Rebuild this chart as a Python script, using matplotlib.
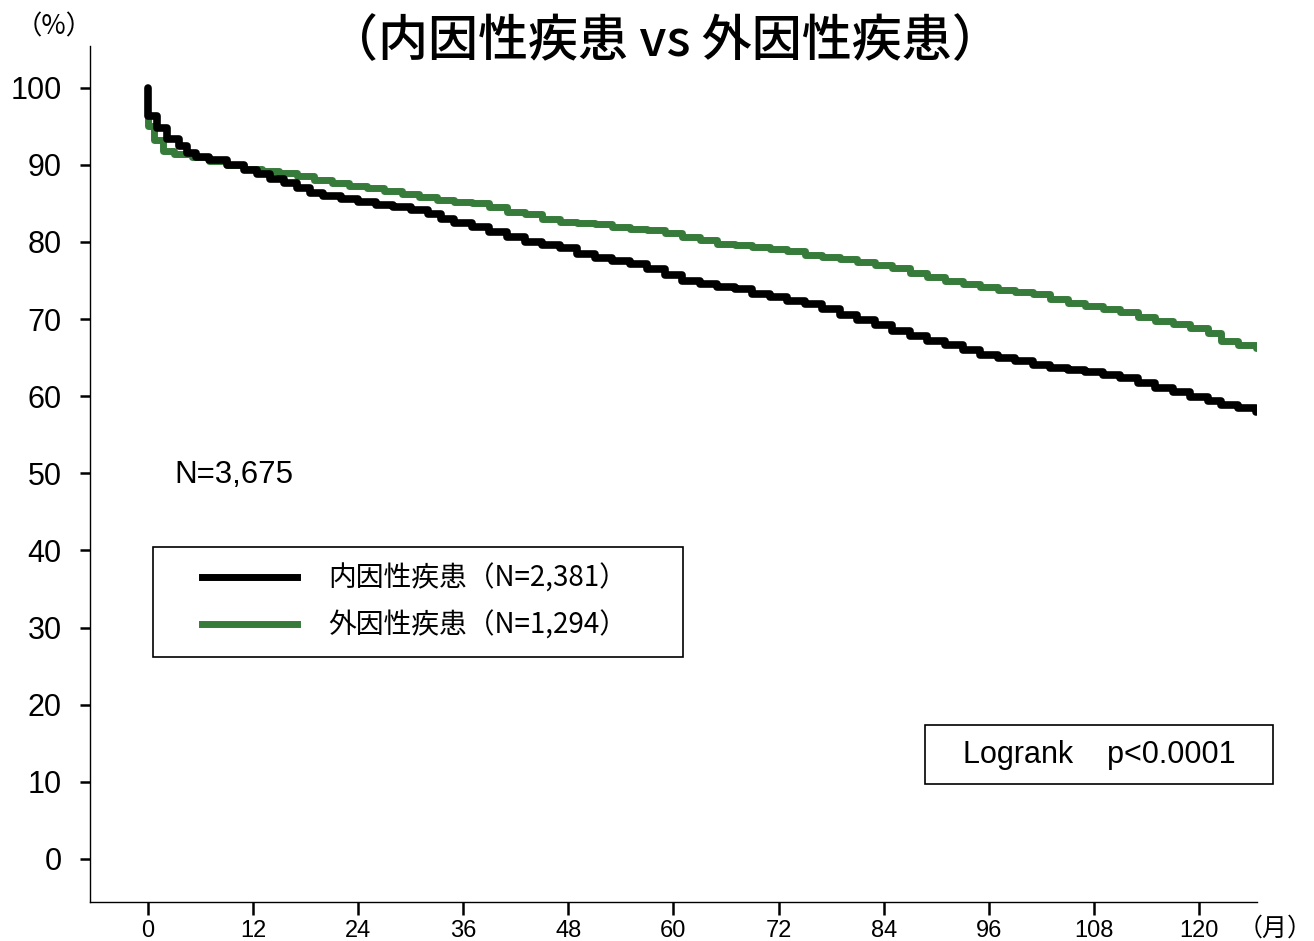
import matplotlib
matplotlib.use("Agg")
import matplotlib.pyplot as plt
from matplotlib.patches import Rectangle
from matplotlib.lines import Line2D
from matplotlib.legend_handler import HandlerLine2D

plt.rcParams["font.family"] = ["Liberation Sans", "Noto Sans CJK JP", "DejaVu Sans"]

# Kaplan-Meier curves (months, survival %)
endo_label = "内因性疾患（N=2,381）"
endo_t = [0, 0.05, 1.0, 2.2, 3.6, 4.5, 5.5, 7, 9, 11, 12.5, 14, 15.5, 17, 18.5,
          20, 22, 24, 26, 28, 30, 32, 33.5, 35, 37, 39, 41, 43, 45, 47, 49,
          51, 53, 55, 57, 59, 61, 63, 65, 67, 69, 71, 73, 75, 77, 79, 81, 83,
          85, 87, 89, 91, 93, 95, 97, 99, 101, 103, 105, 107, 109, 111, 113,
          115, 117, 119, 121, 122.5, 124.5, 126.5]
endo_s = [100, 96.3, 94.8, 93.3, 92.5, 91.6, 91.0, 90.6, 90.0, 89.3, 88.8, 88.2,
          87.6, 87.0, 86.4, 86.0, 85.6, 85.2, 84.8, 84.6, 84.2, 83.6, 83.0, 82.5,
          81.9, 81.3, 80.6, 80.0, 79.6, 79.2, 78.5, 77.9, 77.5, 77.1, 76.5, 75.7,
          75.0, 74.5, 74.1, 73.9, 73.2, 72.8, 72.4, 72.0, 71.3, 70.5, 69.9, 69.2,
          68.5, 67.8, 67.2, 66.6, 66.0, 65.3, 64.9, 64.6, 64.1, 63.7, 63.4, 63.1,
          62.7, 62.3, 61.7, 61.1, 60.6, 59.9, 59.4, 58.8, 58.5, 58.0]

exo_label = "外因性疾患（N=1,294）"
exo_t = [0, 0.05, 0.7, 1.7, 3, 5, 7, 9, 11, 13, 15, 17, 19, 21, 23, 25, 27, 29,
         31, 33, 35, 37, 39, 41, 43, 45, 47, 49, 51, 53, 55, 57, 59, 61, 63, 65,
         67, 69, 71, 73, 75, 77, 79, 81, 83, 85, 87, 89, 91, 93, 95, 97, 99, 101,
         103, 105, 107, 109, 111, 113, 115, 117, 119, 121, 122.5, 124.5, 126.5]
exo_s = [96.0, 95.0, 93.2, 91.8, 91.4, 91.0, 90.5, 90.0, 89.5, 89.2, 89.0, 88.6,
         88.1, 87.7, 87.3, 87.0, 86.6, 86.2, 85.8, 85.4, 85.2, 85.0, 84.6, 83.9,
         83.6, 83.0, 82.6, 82.5, 82.3, 82.0, 81.7, 81.5, 81.1, 80.7, 80.2, 79.8,
         79.6, 79.4, 79.1, 78.8, 78.3, 78.1, 77.8, 77.4, 77.0, 76.6, 76.0, 75.5,
         74.9, 74.6, 74.1, 73.8, 73.5, 73.2, 72.6, 72.1, 71.7, 71.3, 70.9, 70.3,
         69.8, 69.4, 68.8, 68.2, 67.2, 66.6, 66.3]

x_ticks = list(range(0, 121, 12))
y_ticks = list(range(0, 101, 10))

title = "（内因性疾患 vs 外因性疾患）"
n_total = "N=3,675"
logrank = "Logrank    p<0.0001"

GREEN = "#377b3b"

fig = plt.figure(figsize=(13.14, 9.41), dpi=100)
ax = fig.add_axes([0.0685, 0.0414, 0.888, 0.9096])

ax.step(endo_t, endo_s, where="post", color="black", lw=5.5,
        solid_capstyle="round", label=endo_label, zorder=3)
ax.step(exo_t, exo_s, where="post", color=GREEN, lw=5.0,
        solid_capstyle="round", label=exo_label, zorder=2)

ax.set_xlim(-6.6, 126.6)
ax.set_ylim(-5.6, 105.4)
ax.set_xticks(x_ticks)
ax.set_yticks(y_ticks)
ax.set_xticklabels([str(v) for v in x_ticks],
                   family=["Liberation Sans Narrow", "Liberation Sans"], fontsize=17)
ax.set_yticklabels([str(v) for v in y_ticks], fontsize=22)
ax.tick_params(axis="y", direction="out", length=7.5, width=1.8, pad=13)
ax.tick_params(axis="x", direction="out", length=9, width=1.8, pad=4)

for side in ["top", "right"]:
    ax.spines[side].set_visible(False)
for side in ["left", "bottom"]:
    ax.spines[side].set_linewidth(1.0)

# legend: handles pushed right with xpad, as in the reference
handles = [Line2D([], [], color="black", lw=5.0),
           Line2D([], [], color=GREEN, lw=5.0)]
leg = ax.legend(handles, [endo_label, exo_label],
                loc="lower left", bbox_to_anchor=(0.054, 0.286, 0.454, 0.126),
                mode="expand", fancybox=False, edgecolor="black", framealpha=1,
                prop={"family": ["Noto Sans CJK JP"], "size": 20},
                handlelength=4.6, handletextpad=1.1, borderpad=0.6,
                labelspacing=0.62, borderaxespad=0,
                handler_map={Line2D: HandlerLine2D(xpad=1.15)})
leg.get_frame().set_linewidth(1.2)

ax.text(3.0, 49.8, n_total, fontsize=22.5, va="center", ha="left")

# Logrank box, partly outside the axes
fig.patches.append(Rectangle((925 / 1314, 1 - 784 / 941), 348 / 1314, 59 / 941,
                             transform=fig.transFigure, fill=False,
                             edgecolor="black", lw=1.2))
fig.text(1099 / 1314, 1 - 755 / 941, logrank, fontsize=22,
         ha="center", va="center")

fig.text(0.506, 0.955, title, fontsize=36, ha="center", va="center",
         family=["Noto Sans CJK JP"], fontweight="medium")
fig.text(54 / 1314, 1 - 27 / 941, "（%）", fontsize=19, ha="center", va="center",
         family=["Noto Sans CJK JP"])
fig.text(1313 / 1314, 1 - 929 / 941, "（月）", fontsize=18, ha="right", va="center",
         family=["Noto Sans CJK JP"])

fig.savefig("out.png", dpi=100)
